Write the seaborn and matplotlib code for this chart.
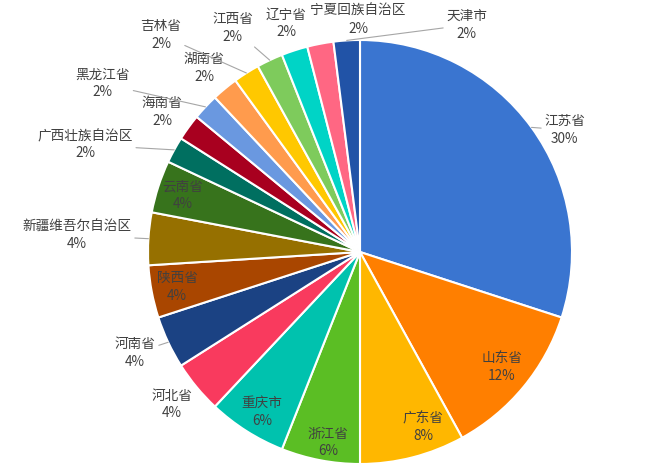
import numpy as np
import matplotlib
matplotlib.use("Agg")
import matplotlib.pyplot as plt
import seaborn as sns

# ---------------- data ----------------
provinces = ["江苏省", "山东省", "广东省", "浙江省", "重庆市", "河北省", "河南省",
             "陕西省", "新疆维吾尔自治区", "云南省", "广西壮族自治区", "海南省",
             "黑龙江省", "湖南省", "吉林省", "江西省", "辽宁省", "宁夏回族自治区", "天津市"]
counts = [15, 6, 4, 3, 3, 2, 2, 2, 2, 2, 1, 1, 1, 1, 1, 1, 1, 1, 1]

# ---------------- style ----------------
colors = ["#3A75D0", "#FF7F00", "#FFB700", "#5BBE24", "#00C2AE", "#F93A5E", "#1B4283",
          "#A94600", "#967000", "#37731C", "#006F60", "#A8001F", "#6A98E0", "#FF9B4D",
          "#FFC800", "#7ECB5C", "#00D4C6", "#FF6783", "#2153A7"]
# label placement: (angle clockwise from top in degrees, radius factor, leader line)
label_layout = [
    (59.2, 1.125, True), (129.0, 0.862, False), (160.2, 0.877, False),
    (189.6, 0.91, False), (211.5, 0.885, False), (230.9, 1.143, False),
    (245.8, 1.163, True), (259.2, 0.879, False), (273.4, 1.337, True),
    (287.8, 0.877, False), (291.3, 1.392, True), (305.3, 1.144, False),
    (303.2, 1.45, True), (319.7, 1.138, False), (317.5, 1.389, True),
    (330.4, 1.215, True), (342.1, 1.135, False), (359.5, 1.095, False),
    (25.2, 1.184, True),
]
text_color = "#404040"
leader_color = "#A6A6A6"
font_kw = dict(fontsize=9.8, color=text_color, linespacing=1.3, fontweight="medium")

sns.set_theme(style="white")
plt.rcParams['font.family'] = ['Noto Sans CJK SC', 'DejaVu Sans']

fig = plt.figure(figsize=(6.5, 4.7), dpi=100)
fig.patch.set_facecolor("white")
ax = fig.add_axes([148 / 650, 6 / 470, 424 / 650, 424 / 470])

ax.pie(counts, colors=colors, startangle=90, counterclock=False, radius=1.0,
       wedgeprops=dict(edgecolor="white", linewidth=1.5))
ax.set_xlim(-1, 1)
ax.set_ylim(-1, 1)
ax.set_aspect("equal")
ax.axis("off")

total = sum(counts)
cum = np.cumsum([0] + counts)
for i, (name, c) in enumerate(zip(provinces, counts)):
    mid = np.deg2rad((cum[i] + c / 2) / total * 360)
    ang, rad, leader = label_layout[i]
    a = np.deg2rad(ang)
    xt, yt = rad * np.sin(a), rad * np.cos(a)
    txt = f"{name}\n{round(c / total * 100)}%"
    if leader:
        ax.annotate(txt, xy=(np.sin(mid), np.cos(mid)), xytext=(xt, yt),
                    ha="center", va="center", annotation_clip=False,
                    arrowprops=dict(arrowstyle="-", color=leader_color, lw=0.8,
                                    shrinkA=0, shrinkB=0), **font_kw)
    else:
        ax.text(xt, yt, txt, ha="center", va="center", clip_on=False, **font_kw)

fig.savefig("out.png", dpi=100, facecolor="white")
